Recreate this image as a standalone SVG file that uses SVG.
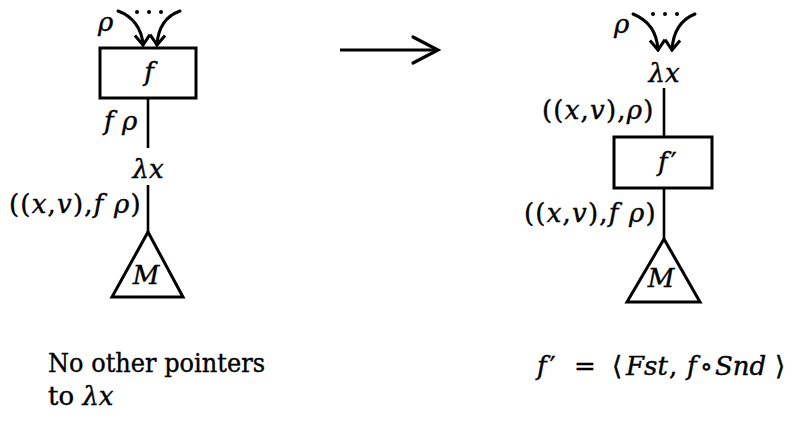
<svg xmlns="http://www.w3.org/2000/svg" width="795" height="421" viewBox="0 0 795 421">
<defs>
<style>
.ln{stroke:#000;stroke-width:2.6;fill:none}
.bx{stroke:#000;stroke-width:3;fill:#fff}
.cv{stroke:#000;stroke-width:3;fill:none;stroke-linecap:round}
text{font-family:'DejaVu Serif','Liberation Serif',serif;font-size:26px;fill:#000;stroke:#000;stroke-width:0.4}
.i{font-style:italic}
.lb{letter-spacing:1.2px}
</style>
<marker id="ah" viewBox="-12 -9 14 18" markerWidth="14" markerHeight="18" refX="0" refY="0" orient="auto" markerUnits="userSpaceOnUse">
<path d="M-10,-7.5 L0,0 L-10,7.5" fill="none" stroke="#000" stroke-width="3" stroke-linejoin="miter"/>
</marker>
</defs>
<rect width="795" height="421" fill="#fff"/>

<g id="connectors">
<path class="cv" d="M118,11 C132,16 142,28 143,45" marker-end="url(#ah)"/>
<path class="cv" d="M180,11 C166,16 158,28 157,45" marker-end="url(#ah)"/>
<line class="ln" x1="148" y1="98" x2="148" y2="148"/>
<line class="ln" x1="148" y1="185" x2="148" y2="232"/>
<path class="cv" d="M633,14 C648,20 657,32 658,50" marker-end="url(#ah)"/>
<path class="cv" d="M695,14 C680,20 673,32 672,50" marker-end="url(#ah)"/>
<line class="ln" x1="664" y1="88" x2="664" y2="137"/>
<line class="ln" x1="664" y1="188" x2="664" y2="239"/>
<line x1="340" y1="50" x2="436" y2="50" stroke="#000" stroke-width="3"/>
<path d="M413,37 L438,50 L413,63" fill="none" stroke="#000" stroke-width="3.2" stroke-linecap="round"/>
</g>

<g id="left-dots">
<circle cx="137" cy="12" r="2"/><circle cx="149" cy="12" r="2"/><circle cx="161" cy="12" r="2"/>
<text class="i" x="98" y="31">ρ</text>
</g>

<g id="node-f">
<rect class="bx" x="100" y="48" width="96" height="50"/>
<text class="i" x="149" y="81" text-anchor="middle">f</text>
</g>
<text class="i" x="104" y="130">f ρ</text>

<g id="node-lambda-left">
<text class="i" x="148" y="178" text-anchor="middle">λx</text>
</g>
<text class="lb" x="9" y="213">((<tspan class="i">x</tspan>,<tspan class="i">v</tspan>),<tspan class="i">f ρ</tspan>)</text>

<g id="node-M-left">
<polygon points="148,232 183,297 112,297" fill="#fff" stroke="#000" stroke-width="3" stroke-linejoin="miter"/>
<text class="i" x="146" y="284" text-anchor="middle">M</text>
</g>

<g id="right-dots">
<circle cx="653" cy="14" r="2"/><circle cx="665" cy="14" r="2"/><circle cx="677" cy="14" r="2"/>
<text class="i" x="614" y="33">ρ</text>
</g>

<g id="node-lambda-right">
<text class="i" x="664" y="82" text-anchor="middle">λx</text>
</g>
<text class="lb" x="542" y="119">((<tspan class="i">x</tspan>,<tspan class="i">v</tspan>),<tspan class="i">ρ</tspan>)</text>

<g id="node-fprime">
<rect class="bx" x="614" y="137" width="98" height="51"/>
<text x="658" y="171"><tspan class="i">f</tspan><tspan dx="3">′</tspan></text>
</g>
<text class="lb" x="524" y="222">((<tspan class="i">x</tspan>,<tspan class="i">v</tspan>),<tspan class="i">f ρ</tspan>)</text>

<g id="node-M-right">
<polygon points="664,239 700,302 627,302" fill="#fff" stroke="#000" stroke-width="3" stroke-linejoin="miter"/>
<text class="i" x="661" y="287" text-anchor="middle">M</text>
</g>

<text x="48" y="372" textLength="217" lengthAdjust="spacingAndGlyphs">No other pointers</text>
<text x="48" y="405">to <tspan class="i">λx</tspan></text>
<text y="375"><tspan class="i" x="537">f</tspan><tspan dx="3">′</tspan><tspan x="574">=</tspan><tspan x="612">⟨</tspan><tspan class="i" x="626">Fst</tspan><tspan x="669">,</tspan><tspan class="i" x="687">f</tspan><tspan x="700">∘</tspan><tspan class="i" x="715">Snd</tspan><tspan x="775">⟩</tspan></text>
</svg>
